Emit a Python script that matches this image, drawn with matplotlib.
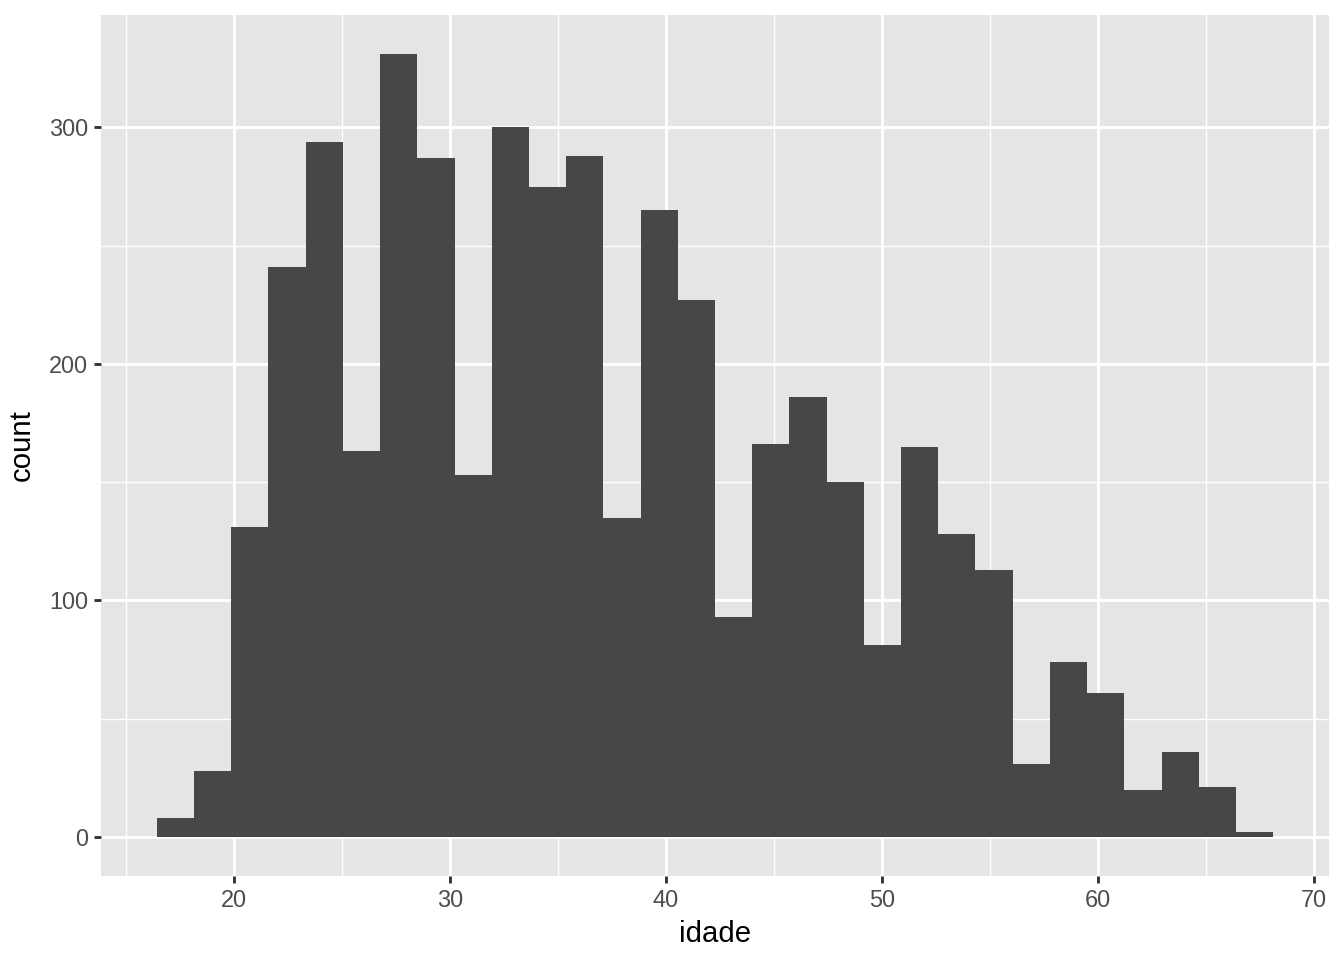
import numpy as np
import matplotlib
matplotlib.use('Agg')
import matplotlib.pyplot as plt

plt.rcParams['font.family'] = ['Liberation Sans', 'DejaVu Sans']

# histogram bins (30 bins)
bin_start = 16.43
bin_width = 1.7225
counts = [8, 28, 131, 241, 294, 163, 331, 287, 153, 300,
          275, 288, 135, 265, 227, 93, 166, 186, 150, 81,
          165, 128, 113, 31, 74, 61, 20, 36, 21, 2]
x_ticks = [20, 30, 40, 50, 60, 70]
y_ticks = [0, 100, 200, 300]

edges = bin_start + bin_width * np.arange(len(counts) + 1)

fig = plt.figure(figsize=(7, 5), dpi=192)
ax = fig.add_axes([101 / 1344, 1 - 876 / 960, (1329 - 101) / 1344, (876 - 15) / 960])
ax.set_facecolor('#e5e5e5')

ax.bar(edges[:-1], counts, width=bin_width, align='edge', color='#474747',
       linewidth=0, zorder=3)

lo, hi = edges[0], edges[-1]
pad = (hi - lo) * 0.05
ax.set_xlim(lo - pad, hi + pad)
ymax = max(counts)
ax.set_ylim(-ymax * 0.05, ymax * 1.05)

ax.set_xticks(x_ticks)
ax.set_yticks(y_ticks)
ax.set_xticks([15, 25, 35, 45, 55, 65], minor=True)
ax.set_yticks([50, 150, 250], minor=True)
ax.grid(which='major', color='white', linewidth=1.07, zorder=1)
ax.grid(which='minor', color='white', linewidth=0.53, zorder=1)
ax.set_axisbelow(True)

for s in ax.spines.values():
    s.set_visible(False)
ax.tick_params(which='major', length=2.75, width=1.07, color='#333333',
               labelsize=8.8, labelcolor='#4d4d4d', pad=2.2)
ax.tick_params(which='minor', length=0)

ax.set_xlabel('idade', fontsize=11, color='black', labelpad=3)
ax.set_ylabel('count', fontsize=11, color='black', labelpad=5)

fig.savefig('out.png', dpi=192)
